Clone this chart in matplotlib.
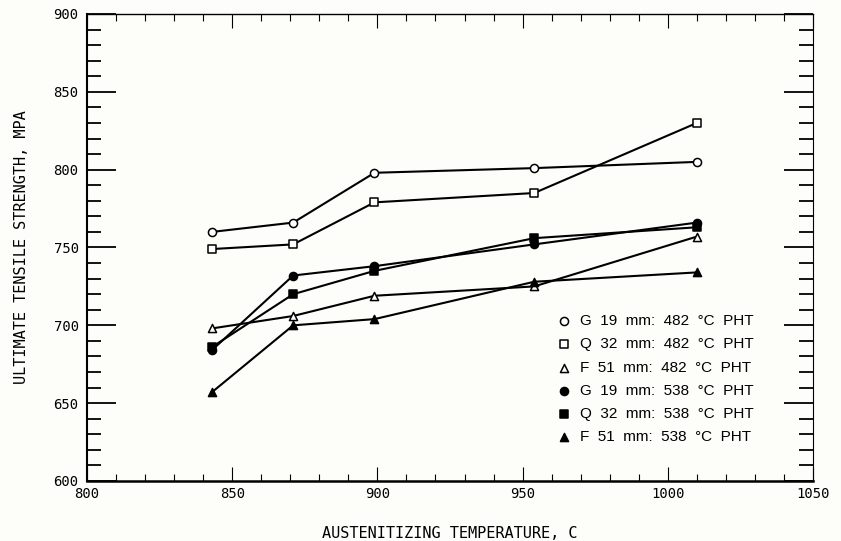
import matplotlib
matplotlib.use('Agg')
import matplotlib.pyplot as plt
from matplotlib.ticker import MultipleLocator

# austenitizing temperature, C
temps = [843, 871, 899, 954, 1010]

# ultimate tensile strength, MPa
g19_482 = [760, 766, 798, 801, 805]
q32_482 = [749, 752, 779, 785, 830]
f51_482 = [698, 706, 719, 725, 757]
g19_538 = [684, 732, 738, 752, 766]
q32_538 = [686, 720, 735, 756, 763]
f51_538 = [657, 700, 704, 728, 734]

labels = ["G  19  mm:  482  °C  PHT", "Q  32  mm:  482  °C  PHT", "F  51  mm:  482  °C  PHT",
          "G  19  mm:  538  °C  PHT", "Q  32  mm:  538  °C  PHT", "F  51  mm:  538  °C  PHT"]
series = [g19_482, q32_482, f51_482, g19_538, q32_538, f51_538]
markers = ["o", "s", "^", "o", "s", "^"]
fills = ["white", "white", "white", "black", "black", "black"]

bg = "#fdfdfa"
fig = plt.figure(figsize=(8.41, 5.41), dpi=100, facecolor=bg)
W, H = 841, 541
ax = fig.add_axes([87 / W, 1 - 481 / H, (813 - 87) / W, (481 - 14) / H])
ax.set_facecolor(bg)

handles = []
for y, m, f, lab in zip(series, markers, fills, labels):
    ax.plot(temps, y, color="black", lw=1.5, zorder=2)
    h = ax.scatter(temps, y, marker=m, s=34, facecolor=f, edgecolor="black",
                   linewidths=1.1, zorder=3, label=lab)
    handles.append(h)

ax.set_xlim(800, 1050)
ax.set_ylim(600, 900)
ax.xaxis.set_major_locator(MultipleLocator(50))
ax.xaxis.set_minor_locator(MultipleLocator(10))
ax.yaxis.set_major_locator(MultipleLocator(50))
ax.yaxis.set_minor_locator(MultipleLocator(10))

mono = "DejaVu Sans Mono"
ax.tick_params(axis="x", which="major", direction="in", length=10, width=0.8,
               top=True, pad=4, labelsize=10)
ax.tick_params(axis="x", which="minor", direction="in", length=5, width=0.8, top=True)
ax.tick_params(axis="y", which="major", direction="in", length=21, width=1.3,
               right=True, pad=6, labelsize=10)
ax.tick_params(axis="y", which="minor", direction="in", length=10, width=1.3, right=True)
for t in ax.get_xticklabels() + ax.get_yticklabels():
    t.set_fontfamily(mono)

ax.spines["left"].set_linewidth(1.5)
ax.spines["bottom"].set_linewidth(1.8)
ax.spines["top"].set_linewidth(1.0)
ax.spines["right"].set_linewidth(0.8)

ax.set_xlabel("AUSTENITIZING TEMPERATURE, C", fontfamily=mono, fontsize=11, labelpad=18)
ax.set_ylabel("ULTIMATE TENSILE STRENGTH, MPA", fontfamily=mono, fontsize=11, labelpad=18)

# legend block sits in the lower right, first row near the 700 level
leg = ax.legend(handles=handles, loc="upper left", bbox_to_anchor=(0.647, 0.357),
                frameon=False, borderpad=0, borderaxespad=0,
                handletextpad=0.5, labelspacing=0.6, handlelength=1.0,
                prop={"family": "Liberation Sans", "size": 11})

fig.savefig("out.png", dpi=100, facecolor=bg)
